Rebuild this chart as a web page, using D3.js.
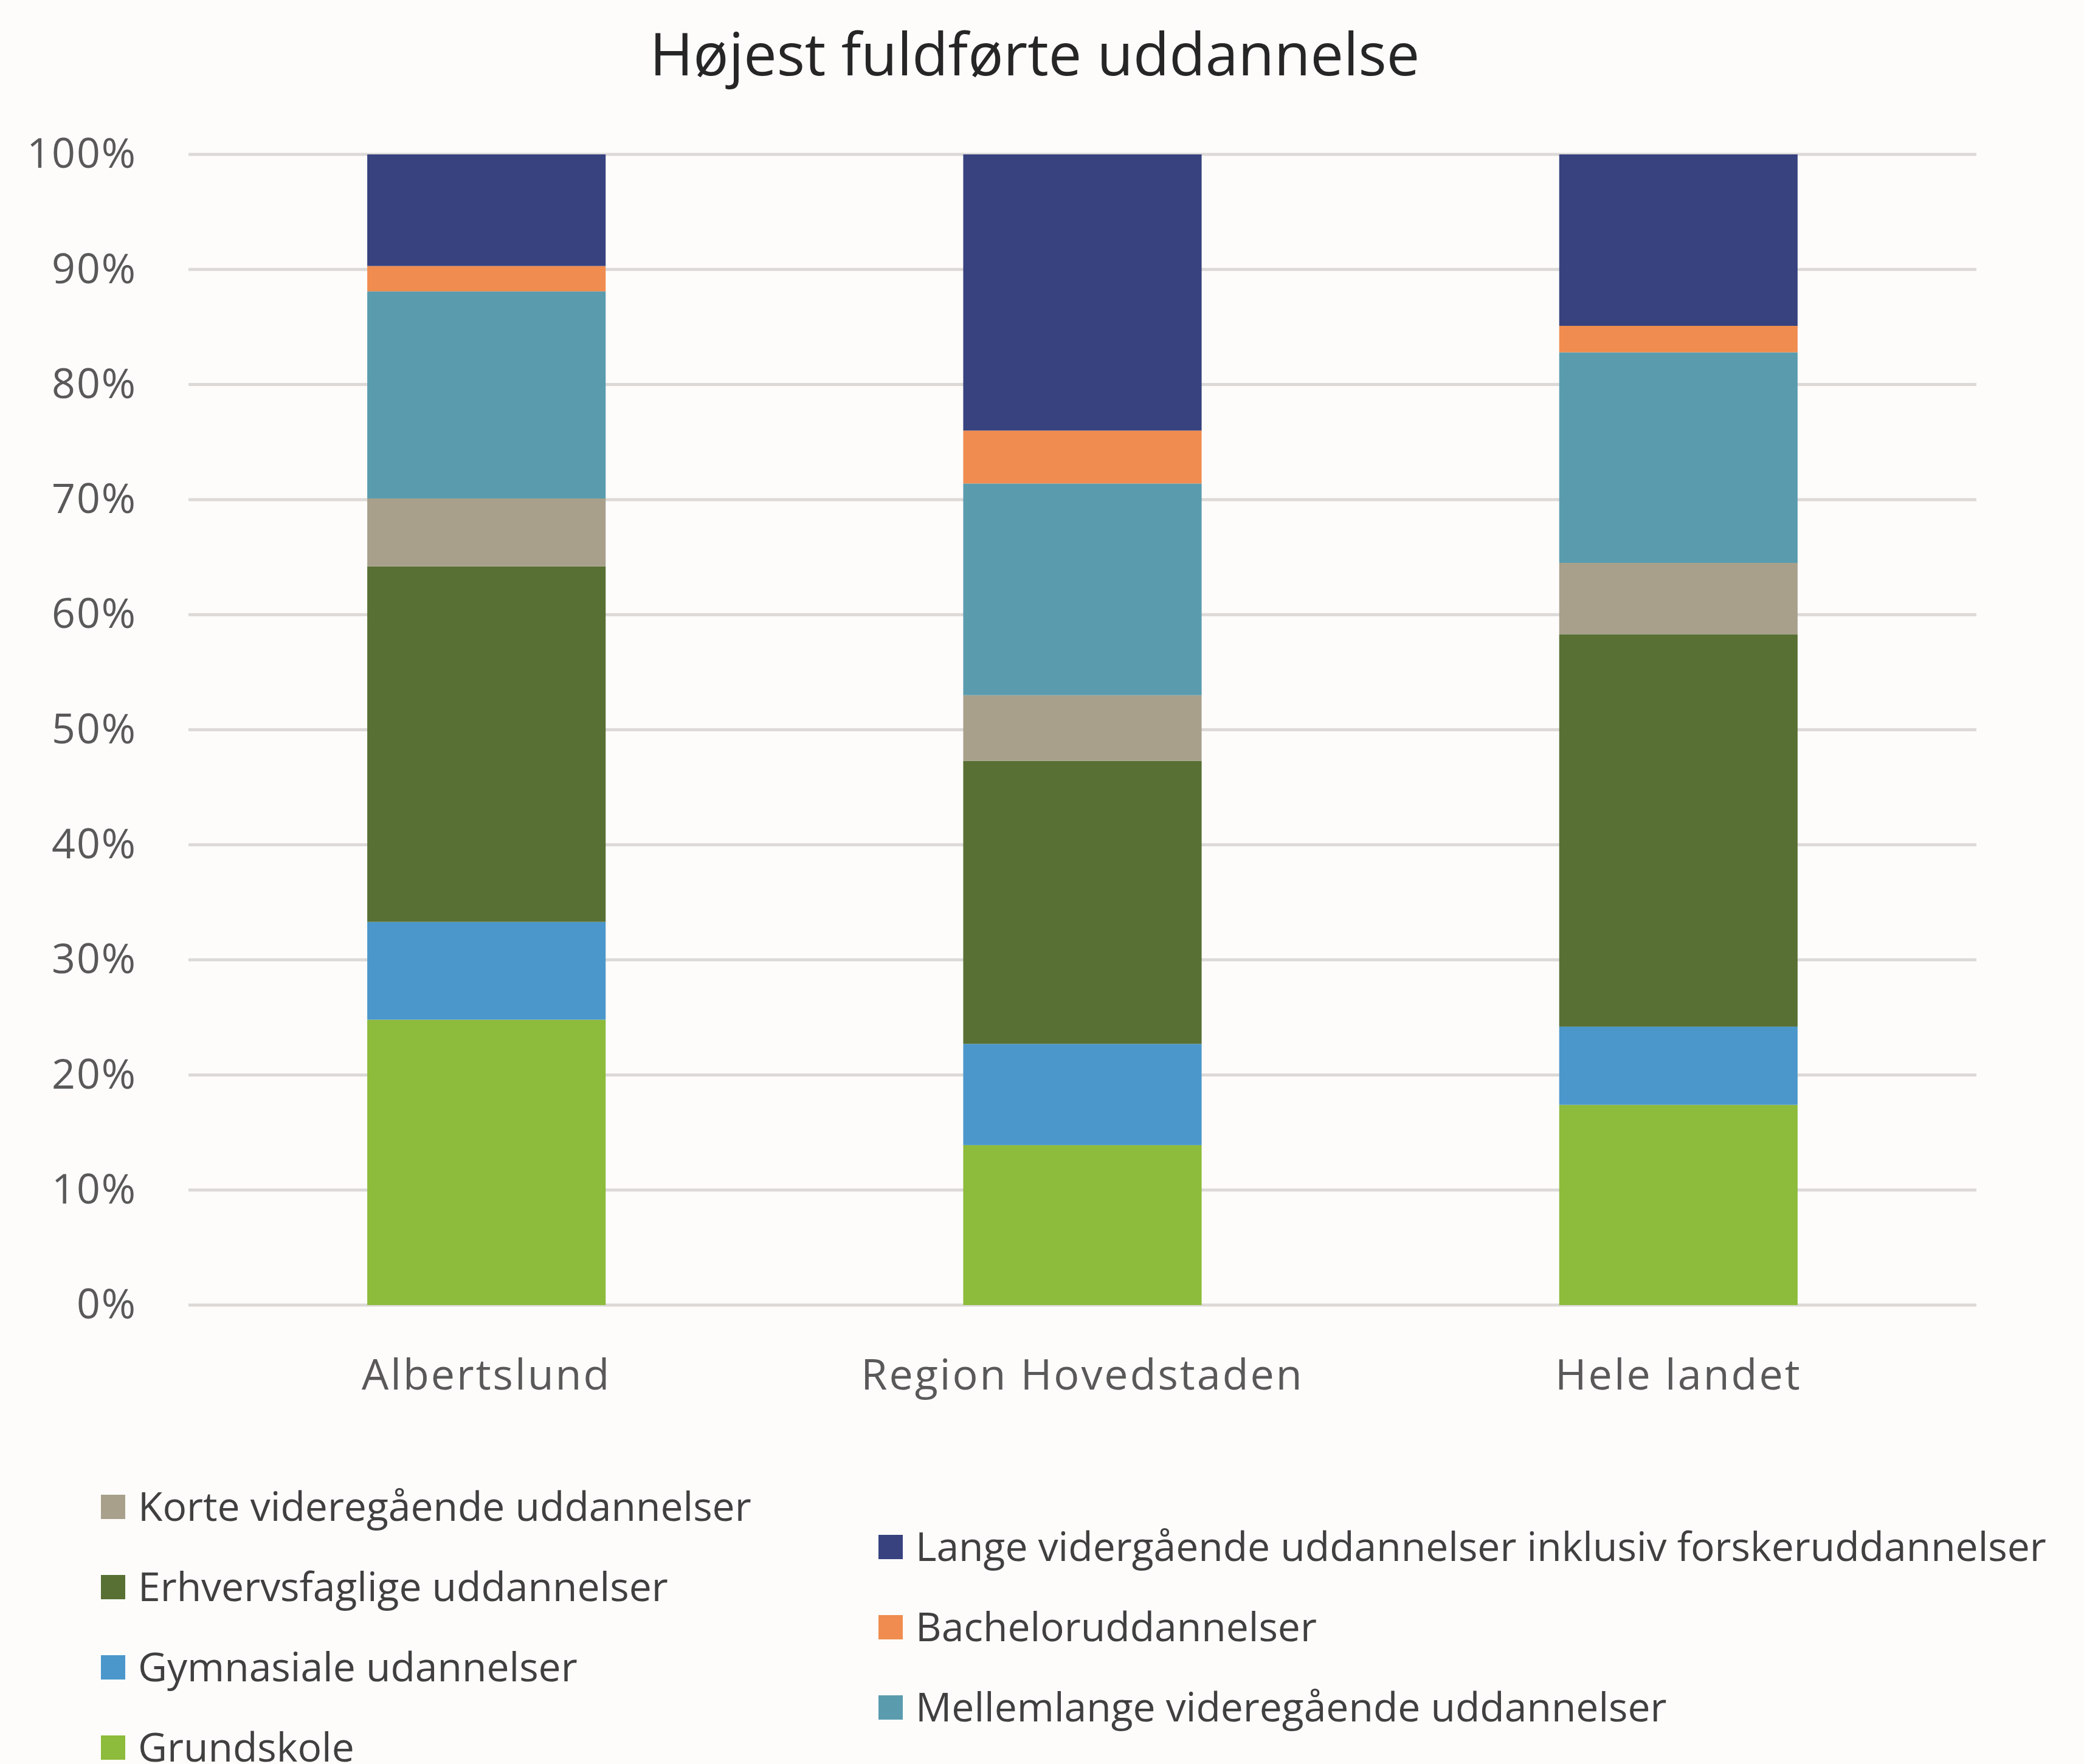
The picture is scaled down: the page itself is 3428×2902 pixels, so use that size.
<!DOCTYPE html>
<html>
<head>
<meta charset="utf-8">
<script src="https://cdn.jsdelivr.net/npm/d3@7"></script>
<style>
  body { margin: 0; background: #fdfcfb; }
  #chart { width: 3428px; height: 2902px; }
</style>
</head>
<body>
<div id="chart"></div>
<script>
// kategorier og serier (andele i %)
const categories = ["Albertslund", "Region Hovedstaden", "Hele landet"];
const seriesNames = [
    "Grundskole",
    "Gymnasiale udannelser",
    "Erhvervsfaglige uddannelser",
    "Korte videregående uddannelser",
    "Mellemlange videregående uddannelser",
    "Bacheloruddannelser",
    "Lange vidergående uddannelser inklusiv forskeruddannelser"
];
const grundskole = [24.8, 13.9, 17.4];
const gymnasiale = [8.5, 8.8, 6.8];
const erhvervsfaglige = [30.9, 24.6, 34.1];
const korte = [5.9, 5.7, 6.2];
const mellemlange = [18.0, 18.4, 18.3];
const bachelor = [2.2, 4.6, 2.3];
const lange = [9.7, 24.0, 14.9];
const yTicks = [0, 10, 20, 30, 40, 50, 60, 70, 80, 90, 100];
// legend order as in the original
const legendLeft = [3, 2, 1, 0];
const legendRight = [6, 5, 4];

const colors = ["#8dbb3b", "#4b97cb", "#587034", "#a8a08b", "#5a9cae", "#f08c4f", "#37427f"];
const seriesValues = [grundskole, gymnasiale, erhvervsfaglige, korte, mellemlange, bachelor, lange];

const width = 3428, height = 2902;
const plotLeft = 310, plotRight = 3251, plotTop = 254, plotBottom = 2147;

const svg = d3.select("#chart").append("svg")
    .attr("width", width)
    .attr("height", height)
    .style("font-family", "'Open Sans', sans-serif");

svg.append("rect").attr("width", width).attr("height", height).attr("fill", "#fdfcfb");

const rows = categories.map(function (c, i) {
    const r = { category: c };
    seriesNames.forEach(function (s, j) { r[s] = seriesValues[j][i]; });
    return r;
});
const stacked = d3.stack().keys(seriesNames)(rows);

const x = d3.scaleBand().domain(categories).range([plotLeft, plotRight])
    .paddingInner(0.6).paddingOuter(0.3);
const y = d3.scaleLinear().domain([0, 100]).range([plotBottom, plotTop]);

// title
svg.append("text")
    .attr("x", 1702).attr("y", 124)
    .attr("text-anchor", "middle")
    .style("font-size", "97px")
    .attr("fill", "#262626")
    .text("Højest fuldførte uddannelse");

// gridlines
svg.append("g").selectAll("line")
    .data(yTicks)
    .enter().append("line")
    .attr("x1", plotLeft).attr("x2", plotRight)
    .attr("y1", d => y(d)).attr("y2", d => y(d))
    .attr("stroke", "#dcd9d7").attr("stroke-width", 5);

// y axis
const yAxis = svg.append("g")
    .attr("transform", "translate(" + 225 + ",0)")
    .call(d3.axisLeft(y).tickValues(yTicks).tickFormat(d => d + "%").tickSize(0).tickPadding(0));
yAxis.select(".domain").remove();
yAxis.selectAll("text")
    .style("font-size", "68px")
    .style("letter-spacing", "2px")
    .style("font-family", "'Open Sans', sans-serif")
    .attr("fill", "#595959");

// bars
svg.append("g").selectAll("g")
    .data(stacked)
    .enter().append("g")
    .attr("fill", (d, i) => colors[i])
    .selectAll("rect")
    .data(d => d)
    .enter().append("rect")
    .attr("x", d => x(d.data.category))
    .attr("width", x.bandwidth())
    .attr("y", d => y(d[1]))
    .attr("height", d => y(d[0]) - y(d[1]));

// x axis
const xAxis = svg.append("g")
    .attr("transform", "translate(0," + 2236 + ")")
    .call(d3.axisBottom(x).tickSize(0).tickPadding(0));
xAxis.select(".domain").remove();
xAxis.selectAll("text")
    .style("font-size", "70px")
    .style("letter-spacing", "3px")
    .style("font-family", "'Open Sans', sans-serif")
    .attr("fill", "#595959");

// legend
function legendColumn(idx, sx, y0) {
    const g = svg.append("g");
    const items = g.selectAll("g").data(idx).enter().append("g")
        .attr("transform", (d, i) => "translate(" + sx + "," + (y0 + i * 132) + ")");
    items.append("rect")
        .attr("x", 0).attr("y", -20)
        .attr("width", 40).attr("height", 40)
        .attr("fill", d => colors[d]);
    items.append("text")
        .attr("x", 61).attr("dy", "0.35em")
        .style("font-size", "66px")
        .attr("fill", "#404040")
        .text(d => seriesNames[d]);
}
legendColumn(legendLeft, 166, 2479);
legendColumn(legendRight, 1445, 2545);
</script>
</body>
</html>
